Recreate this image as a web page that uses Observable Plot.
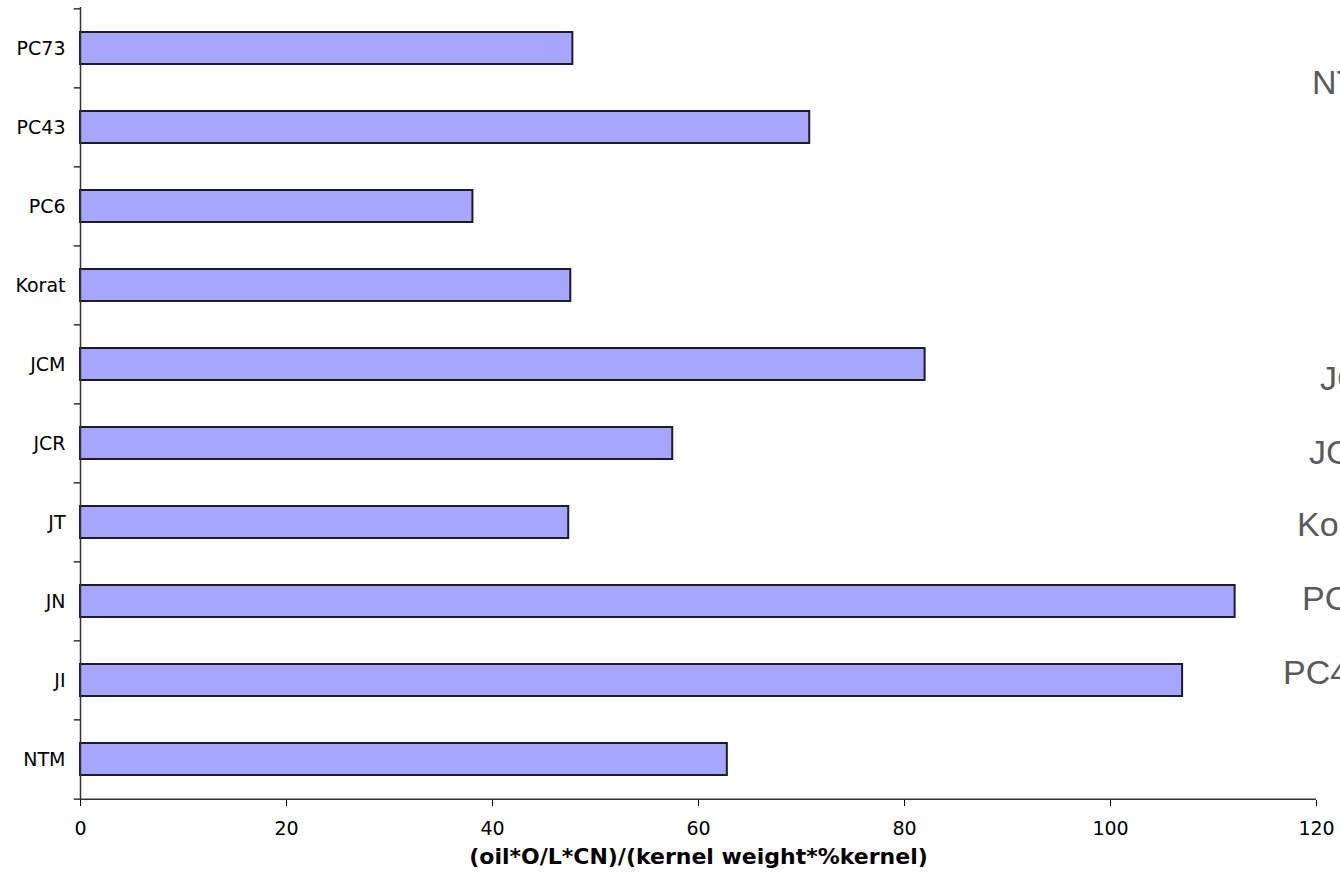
<!DOCTYPE html>
<html>
<head>
<meta charset="utf-8">
<script src="https://cdn.jsdelivr.net/npm/d3@7"></script>
<script src="https://cdn.jsdelivr.net/npm/@observablehq/plot@0.6"></script>
<style>
  html, body { margin: 0; padding: 0; background: #fff; overflow: hidden; width: 1340px; height: 881px; }
  #wrap { position: relative; width: 1340px; height: 881px; overflow: hidden; }
  .leg { position: absolute; font-family: "Liberation Sans", Arial, sans-serif; font-size: 34px; color: #5a5a5a; white-space: nowrap; line-height: 1; }
</style>
</head>
<body>
<div id="wrap"></div>
<script>
const categories = ["PC73", "PC43", "PC6", "Korat", "JCM", "JCR", "JT", "JN", "JI", "NTM"];
const values = [47.8, 70.8, 38.1, 47.6, 82.0, 57.5, 47.4, 112.1, 107.0, 62.8];
const xTicks = [0, 20, 40, 60, 80, 100, 120];
const xTitle = "(oil*O/L*CN)/(kernel weight*%kernel)";
const legendLabels = ["NTM", "JCR", "JCM", "Korat", "PC6", "PC43"];

const data = categories.map((c, i) => ({category: c, value: values[i]}));

const width = 1340, height = 881;
const marginTop = 7, marginBottom = 81, marginLeft = 80, marginRight = 24;
const step = (height - marginTop - marginBottom) / categories.length;

const chart = Plot.plot({
  width, height, marginTop, marginBottom, marginLeft, marginRight,
  style: {fontFamily: "DejaVu Sans, Verdana, sans-serif", fontSize: "19px", color: "#000", background: "#fff"},
  x: {domain: [0, 120], ticks: xTicks, label: null, tickSize: 6, tickPadding: 15},
  y: {domain: categories, paddingInner: 0.6, paddingOuter: 0.28, label: null, tickSize: 0, tickPadding: 15},
  marks: [
    Plot.barX(data, {x: "value", y: "category", fill: "#a6a6ff", stroke: "#1c1c2c", strokeWidth: 2}),
    Plot.ruleX([0], {stroke: "#333", strokeWidth: 1.5}),
    Plot.ruleY(categories.slice(-1), {y: d => d, dy: step / 2, stroke: "#333", strokeWidth: 1.5}),
    Plot.ruleY(categories, {y: d => d, dy: -step / 2, x1: -0.6, x2: 0, stroke: "#333", strokeWidth: 1.5}),
    Plot.ruleY(categories.slice(-1), {y: d => d, dy: step / 2, x1: -0.6, x2: 0, stroke: "#333", strokeWidth: 1.5}),
    Plot.text([xTitle], {frameAnchor: "bottom", dy: 63, text: d => d, fontWeight: "bold", fontSize: 22, fill: "#000"})
  ]
});
const wrap = document.getElementById("wrap");
wrap.appendChild(chart);

// legend labels, cut off at the right edge as in the reference
const legendPos = [[1312, 82], [1320, 378], [1309, 452], [1297, 524], [1302, 598], [1283, 672]];
legendLabels.forEach((t, i) => {
  const d = document.createElement("div");
  d.className = "leg";
  d.textContent = t;
  d.style.left = legendPos[i][0] + "px";
  d.style.top = (legendPos[i][1] - 17) + "px";
  wrap.appendChild(d);
});
</script>
</body>
</html>
